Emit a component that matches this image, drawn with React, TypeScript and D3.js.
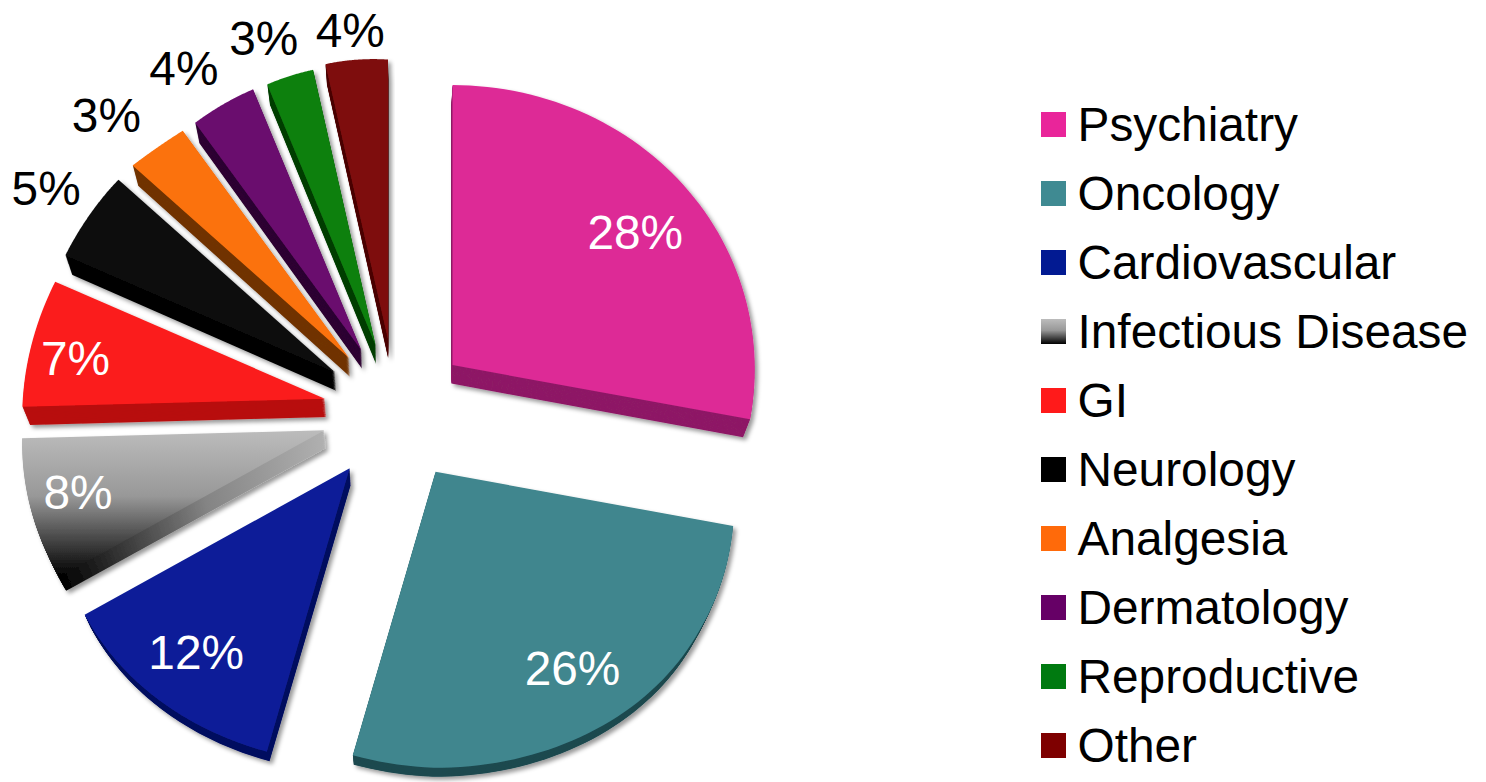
import * as d3 from "d3";

const categories = ["Psychiatry", "Oncology", "Cardiovascular", "Infectious Disease", "GI", "Neurology", "Analgesia", "Dermatology", "Reproductive", "Other"];
const shares = [28, 26, 12, 8, 7, 5, 3, 4, 3, 4];
const topColors = ["#dd2a96", "#40868e", "#0c1f98", "url(#infTop)", "#fb1e1e", "#111111", "#fb7210", "#6a0c6e", "#118011", "#7e0c0c"];
const sideColors = ["#8e1a66", "#1e4a50", "#060f60", "url(#infSide)", "#b80c0c", "#000000", "#713400", "#2e0532", "#053f05", "#4b0505"];
const legendColors = ["#e9259a", "#3f8a92", "#021a92", "url(#infTop)", "#ff1a1a", "#000000", "#ff6a0a", "#660066", "#007a10", "#7e0000"];

// small corrections to where each exploded slice ends up
const apexNudges = [[0, 0], [0, 0], [-5, -1], [-4, -3], [-1, -1], [0, -2], [3, -2], [3, 0], [3, 2], [0, 0]];
// label placement, relative to the point on the slice's middle radius
const labelNudges = [[-4, 10], [7, 7], [-11, 3], [-16, -7], [-10, -6], [-2, -28], [-7, -25], [1, -22], [1, -17], [4, -4]];
const labelDark = [false, false, false, false, false, true, true, true, true, true];

const centerX = 397;
const centerY = 411;
const explode = 72;
const fontFamily = "'Liberation Sans', Arial, sans-serif";

// the pie is seen in perspective, so the width depends on how far down the rim is
const leftWidth = d3.scaleLinear().domain([-1, -0.77, -0.637, -0.37, 0.06, 0.54, 0.97]).range([250, 261, 281, 290, 303, 314, 333]);
const rightWidth = d3.scaleLinear().domain([-1, 0.19, 0.54, 0.97]).range([298, 303, 314, 333]);
const leftLift = d3.scaleLinear().domain([-1, -0.6, -0.37, 0.06, 0.54, 1]).range([16, 16, 13, 10, 12, 12]);
const depthAt = d3.scaleLinear().domain([200, 420, 770]).range([20, 18, 9]).clamp(true);

export default function App() {
  const pie = d3.pie<number>().sort(null).value((d) => d);
  const slices = pie(shares);
  const line = d3.line();

  const sliceData = slices.map((s, i) => {
    const mid = (s.startAngle + s.endAngle) / 2;
    const apexX = centerX + explode * Math.sin(mid) + apexNudges[i][0];
    const apexY = centerY - explode * Math.cos(mid) + apexNudges[i][1];

    const rim = (a: number): [number, number] => {
      const u = Math.sin(a);
      const v = -Math.cos(a);
      const lift = u < 0 ? leftLift(v) * u : 0;
      const width = u < 0 ? leftWidth(v) : rightWidth(v);
      return [apexX + width * u, apexY + 288 * v + 8 * v * v + lift];
    };

    const steps = d3.range(0, 61).map((k) => s.startAngle + ((s.endAngle - s.startAngle) * k) / 60);
    const outline: [number, number][] = [[apexX, apexY], ...steps.map((a) => rim(a))];

    const face = (t: number) =>
      line(outline.map(([x, y]) => [x + t * 0.02 * (centerX - x), y + t * depthAt(y)] as [number, number])) + "Z";

    const f = i < 5 ? 0.8 : 1.1;
    return {
      i,
      top: face(0),
      side: d3.range(1, 0, -0.05).map(face),
      labelX: apexX + f * 303 * Math.sin(mid) + labelNudges[i][0],
      labelY: apexY - f * 280 * Math.cos(mid) + labelNudges[i][1],
    };
  });

  return (
    <svg width={1486} height={782} style={{ position: "absolute", left: 0, top: 0, background: "#fff" }}>
      <defs>
        <linearGradient id="infTop" x1="0" y1="0" x2="0" y2="1">
          <stop offset="0" stopColor="#bcbcbc" />
          <stop offset="0.45" stopColor="#989898" />
          <stop offset="1" stopColor="#000000" />
        </linearGradient>
        <linearGradient id="infSide" x1="0" y1="0" x2="0" y2="1">
          <stop offset="0" stopColor="#b0b0b0" />
          <stop offset="0.45" stopColor="#848484" />
          <stop offset="1" stopColor="#000000" />
        </linearGradient>
        <filter id="shadow" x="-10%" y="-10%" width="120%" height="120%">
          <feDropShadow dx="3" dy="3" stdDeviation="2" floodColor="#000" floodOpacity="0.4" />
        </filter>
      </defs>

      {[...sliceData].reverse().map((d) => (
        <g key={categories[d.i]} filter="url(#shadow)">
          {d.side.map((p, k) => (
            <path key={k} d={p} fill={sideColors[d.i]} />
          ))}
          <path d={d.top} fill={topColors[d.i]} />
        </g>
      ))}

      {sliceData.map((d) => (
        <text
          key={d.i}
          x={d.labelX}
          y={d.labelY + 17}
          textAnchor="middle"
          fontFamily={fontFamily}
          fontSize={47.8}
          fill={labelDark[d.i] ? "#000" : "#fff"}
        >
          {shares[d.i]}%
        </text>
      ))}

      {categories.map((c, i) => (
        <g key={c} transform={`translate(1041, ${112 + i * 69})`}>
          <rect width={25} height={25} fill={legendColors[i]} />
          <text x={36.5} y={28.5} fontFamily={fontFamily} fontSize={47.8} fill="#000">
            {c}
          </text>
        </g>
      ))}
    </svg>
  );
}
